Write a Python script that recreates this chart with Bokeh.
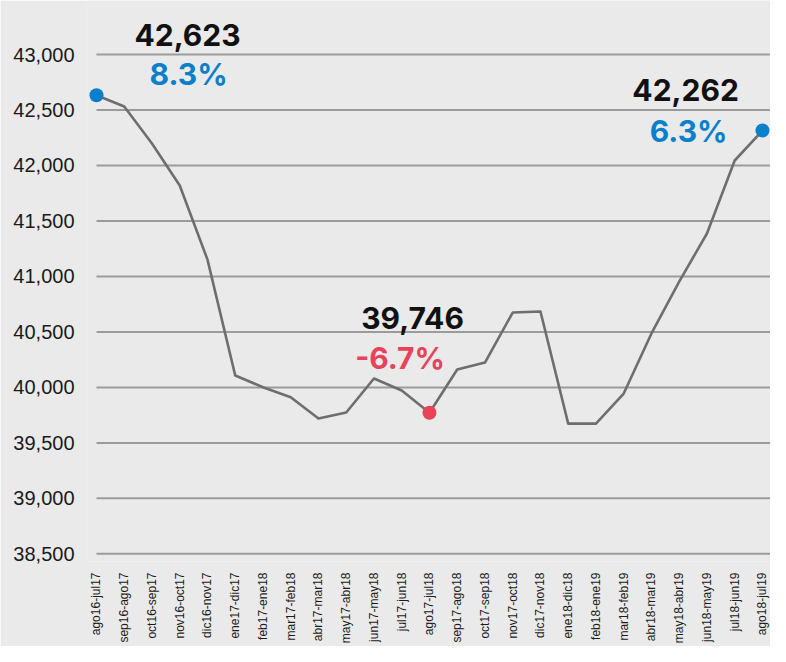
import math
from bokeh.plotting import figure
from bokeh.models import FixedTicker, NumeralTickFormatter, Range1d
from bokeh.core.properties import value
from bokeh.embed import file_html
from bokeh.resources import INLINE

# ---------------- data ----------------
categories = ["ago16-jul17", "sep16-ago17", "oct16-sep17", "nov16-oct17", "dic16-nov17",
              "ene17-dic17", "feb17-ene18", "mar17-feb18", "abr17-mar18", "may17-abr18",
              "jun17-may18", "jul17-jun18", "ago17-jul18", "sep17-ago18", "oct17-sep18",
              "nov17-oct18", "dic17-nov18", "ene18-dic18", "feb18-ene19", "mar18-feb19",
              "abr18-mar19", "may18-abr19", "jun18-may19", "jul18-jun19", "ago18-jul19"]
values = [42633, 42531, 42198, 41819, 41152, 40107, 40002, 39912, 39720, 39774,
          40080, 39972, 39771, 40161, 40224, 40675, 40684, 39674, 39674, 39945,
          40486, 40954, 41387, 42045, 42315]
y_ticks = [38500, 39000, 39500, 40000, 40500, 41000, 41500, 42000, 42500, 43000]

highlight_idx = [0, 12, 24]
highlight_colors = ["#0a7fcc", "#e8435a", "#0a7fcc"]
value_labels = ["42,623", "39,746", "42,262"]
pct_labels = ["8.3%", "-6.7%", "6.3%"]
pct_colors = ["#0a7fcc", "#e8435a", "#0a7fcc"]

BG = "#e9eae9"
x_idx = list(range(len(categories)))

p = figure(width=770, height=646, output_backend="svg", toolbar_location=None,
           x_range=Range1d(-0.36, 24.29), y_range=Range1d(38431, 43487),
           min_border_left=86, min_border_right=0, min_border_top=0, min_border_bottom=85)
p.background_fill_color = BG
p.border_fill_color = BG
p.outline_line_color = None
p.xgrid.visible = False
p.ygrid.visible = False

# grid lines (start at first category)
p.segment(x0=[0] * len(y_ticks), x1=[26] * len(y_ticks), y0=y_ticks, y1=y_ticks,
          line_color="#9b9b9b", line_width=2)

# main line
p.line(x_idx, values, line_color="#6e6e6e", line_width=2.6, line_join="round")

# highlighted points
p.scatter([x_idx[i] for i in highlight_idx], [values[i] for i in highlight_idx],
          size=14, fill_color=highlight_colors, line_color=None)

# annotations
lab_x = [3.28, 11.39, 21.23]
lab_y = [43180, 40630, 42680]
p.text(lab_x, lab_y, text=value_labels, text_font=value("Inter"), text_font_style="bold",
       text_font_size="30px", text_color="#111111", text_align="center",
       text_baseline="alphabetic")
pct_x = [3.32, 10.94, 21.34]
pct_y = [42829, 40269, 42310]
p.text(pct_x, pct_y, text=pct_labels, text_font=value("Inter"), text_font_style="bold",
       text_font_size="30px", text_color=pct_colors, text_align="center",
       text_baseline="alphabetic")

# y axis
ya = p.yaxis[0]
ya.ticker = FixedTicker(ticks=y_ticks)
ya.formatter = NumeralTickFormatter(format="0,0")
ya.axis_line_color = None
ya.major_tick_line_color = None
ya.minor_tick_line_color = None
ya.major_tick_out = 0
ya.major_tick_in = 0
ya.minor_tick_out = 0
ya.major_label_standoff = 12
ya.major_label_text_font = "Liberation Sans"
ya.major_label_text_font_size = "20px"
ya.major_label_text_color = "#1a1a1a"

# x axis
xa = p.xaxis[0]
xa.ticker = FixedTicker(ticks=x_idx)
xa.major_label_overrides = {i: c for i, c in zip(x_idx, categories)}
xa.major_label_orientation = math.pi / 2
xa.axis_line_color = None
xa.major_tick_line_color = None
xa.minor_tick_line_color = None
xa.major_tick_out = 0
xa.major_tick_in = 0
xa.minor_tick_out = 0
xa.major_label_standoff = 11
xa.major_label_text_font = "Liberation Sans"
xa.major_label_text_font_size = "12px"
xa.major_label_text_color = "#1a1a1a"

open("out.html", "w").write(file_html(p, INLINE))
